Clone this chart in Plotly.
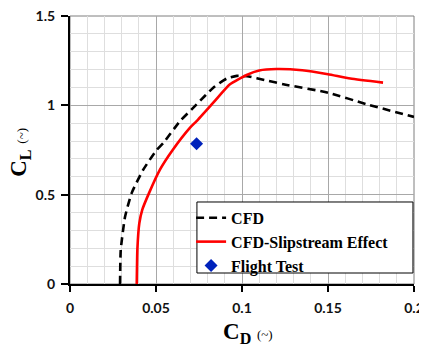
import plotly.graph_objects as go

# CFD (dashed black)
cfd_cd = [0.0291, 0.0295, 0.0320, 0.0359, 0.0426, 0.0504, 0.0543, 0.0640, 0.0736,
          0.0833, 0.0911, 0.0970, 0.1030, 0.1140, 0.1240, 0.1500, 0.1725, 0.2000]
cfd_cl = [0.00, 0.19, 0.376, 0.51, 0.64, 0.75, 0.79, 0.912, 1.005,
          1.099, 1.150, 1.165, 1.163, 1.140, 1.118, 1.071, 1.006, 0.935]

# CFD-Slipstream Effect (red)
slip_cd = [0.0388, 0.0392, 0.0403, 0.0420, 0.0460, 0.0523, 0.0597, 0.0698, 0.0736,
           0.0833, 0.0930, 0.1027, 0.1100, 0.1200, 0.1350, 0.1500, 0.1630, 0.1820]
slip_cl = [0.00, 0.20, 0.34, 0.415, 0.51, 0.64, 0.75, 0.875, 0.912,
           1.015, 1.118, 1.170, 1.195, 1.203, 1.196, 1.174, 1.150, 1.127]

# Flight Test
ft_cd = [0.0736]
ft_cl = [0.785]

x_ticks = [0, 0.05, 0.1, 0.15, 0.2]
x_labels = ["0", "0.05", "0.1", "0.15", "0.2"]
y_ticks = [0, 0.5, 1, 1.5]
y_labels = ["0", "0.5", "1", "1.5"]

serif = "'Liberation Serif', 'Times New Roman', serif"

fig = go.Figure()
fig.add_trace(go.Scatter(x=cfd_cd, y=cfd_cl, mode="lines", name="CFD",
                         line=dict(color="black", width=2.6, dash="8px,5px", shape="spline", smoothing=0.5)))
fig.add_trace(go.Scatter(x=slip_cd, y=slip_cl, mode="lines", name="CFD-Slipstream Effect",
                         line=dict(color="#ff0000", width=2.6, shape="spline", smoothing=0.5)))
fig.add_trace(go.Scatter(x=ft_cd, y=ft_cl, mode="markers", name="Flight Test",
                         marker=dict(symbol="diamond", size=10, color="#0022bb")))

tickfont = dict(family="Lato, 'Open Sans', sans-serif", size=14, color="#111", weight="bold")

# page body has an 8px margin, so the figure is drawn 8px smaller and shifted
fig.update_layout(
    width=419, height=339,
    margin=dict(l=62, r=13, t=8, b=63, autoexpand=False),
    paper_bgcolor="white", plot_bgcolor="white",
    showlegend=True,
    legend=dict(x=0.352, y=0.31, xanchor="left", yanchor="top",
                bgcolor="rgba(0,0,0,0)", borderwidth=0,
                font=dict(family=serif, size=16, color="black", weight="bold"),
                itemwidth=30, tracegroupgap=0),
    shapes=[
        dict(type="rect", xref="paper", yref="paper", x0=0, y0=0, x1=1, y1=1,
             line=dict(color="#7f7f7f", width=1), layer="below"),
        dict(type="rect", xref="paper", yref="paper", x0=0.369, y0=0.041, x1=0.997, y1=0.306,
             line=dict(color="black", width=1), fillcolor="white", layer="above"),
    ],
    annotations=[
        dict(text="<b>C<sub>D</sub></b> <span style='font-size:13px'>(~)</span>",
             xref="paper", yref="paper", x=0.517, y=-0.183, xanchor="center", yanchor="middle",
             showarrow=False, font=dict(family=serif, size=23, color="black")),
        dict(text="<b>C<sub>L</sub></b> <span style='font-size:13px'>(~)</span>",
             xref="paper", yref="paper", x=-0.145, y=0.49, xanchor="center", yanchor="middle",
             textangle=-90, showarrow=False, font=dict(family=serif, size=23, color="black")),
    ],
)

fig.update_xaxes(
    range=[0, 0.2], tickvals=x_ticks, ticktext=x_labels, tickfont=tickfont,
    showline=True, linecolor="black", linewidth=2, mirror=False,
    ticks="outside", ticklen=6, tickwidth=2, tickcolor="black", ticklabelstandoff=4,
    ticklabeloverflow="allow",
    showgrid=True, gridcolor="#a8a8a8", gridwidth=1, zeroline=False,
    minor=dict(dtick=0.01, showgrid=True, gridcolor="#dedede", gridwidth=1),
    automargin=False,
)
fig.update_yaxes(
    range=[0, 1.5], tickvals=y_ticks, ticktext=y_labels, tickfont=tickfont,
    showline=True, linecolor="black", linewidth=2, mirror=False,
    ticks="outside", ticklen=7, tickwidth=2, tickcolor="black", ticklabelstandoff=3,
    ticklabeloverflow="allow",
    showgrid=True, gridcolor="#a8a8a8", gridwidth=1, zeroline=False,
    minor=dict(dtick=0.1, showgrid=True, gridcolor="#dedede", gridwidth=1),
    automargin=False,
)

fig.write_html("out.html")
